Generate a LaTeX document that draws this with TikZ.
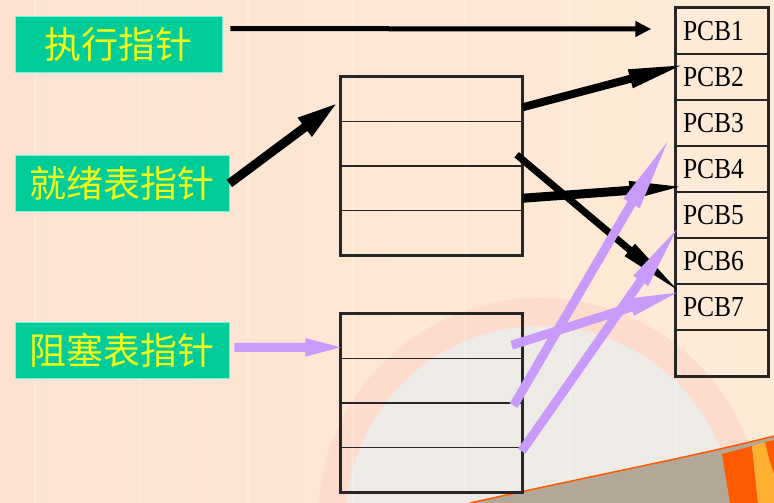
\documentclass[tikz,border=0pt]{standalone}
\usepackage{fontspec}
\setmainfont{Liberation Serif}
\newfontfamily\cjk{Noto Sans CJK SC}
\newfontfamily\pcbfont[FakeStretch=0.88]{Liberation Serif}
\usepackage{tikz}
\usetikzlibrary{arrows.meta, calc}

\definecolor{bgleft}{RGB}{252,226,211}
\definecolor{bgright}{RGB}{254,235,214}
\definecolor{ringpink}{RGB}{253,219,205}
\definecolor{discgrey}{RGB}{238,235,231}
\definecolor{floorgrey}{RGB}{179,168,152}
\definecolor{bandorange}{RGB}{255,90,0}
\definecolor{bandyellow}{RGB}{255,176,48}
\definecolor{boxteal}{RGB}{0,204,153}
\definecolor{boxedge}{RGB}{120,240,220}
\definecolor{ptryellow}{RGB}{240,250,20}
\definecolor{ptrpurple}{RGB}{200,155,250}

\tikzset{
  ptrbox/.style={draw=boxedge, line width=0.8pt, fill=boxteal, text=ptryellow,
    inner sep=0pt, minimum height=56pt, font=\cjk\fontsize{37}{39}\selectfont},
  tabrow/.style={draw=black!85, line width=1.3pt, minimum width=181pt,
    minimum height=44.5pt, inner sep=0pt},
  pcbrow/.style={draw=black!85, line width=1.3pt, minimum height=46pt,
    text width=78pt, inner xsep=7pt, inner ysep=0pt, align=left,
    font=\pcbfont\fontsize{29}{31}\selectfont},
  blackptr/.style={line width=8pt, black},
  purpleptr/.style={line width=9pt, ptrpurple},
}

\begin{document}
\begin{tikzpicture}[x=1pt, y=-1pt]
% background
\useasboundingbox (0,0) rectangle (774,503);
\shade[left color=bgleft, right color=bgright] (0,0) rectangle (774,503);
\begin{scope}
\clip (0,0) rectangle (774,503);
\fill[ringpink] (540,520) circle[radius=222];
\fill[discgrey] (540,520) circle[radius=194];
\foreach \x in {35,140,248,353,465,570,676}
  \draw[white, opacity=0.2, line width=2pt] (\x,0) -- (\x,503);
\fill[floorgrey] (470,503) .. controls (610,472) and (700,455) .. (774,436) -- (774,503) -- cycle;
\fill[bandorange] (722,454) -- (752,446) -- (758,503) -- (730,503) -- cycle;
\fill[bandyellow] (752,446) -- (774,440) -- (774,503) -- (758,503) -- cycle;
\fill[bandorange] (765,442) -- (774,440) -- (774,474) .. controls (770,462) .. (765,442);
\draw[bandorange, line width=1.5pt] (470,503) .. controls (610,472) and (700,455) .. (774,436);
\end{scope}

% pointer boxes
\node[ptrbox, minimum width=207pt] (exec) at (118.5,44) {执行指针};
\node[ptrbox, minimum width=214pt] (ready) at (122,183.5) {就绪表指针};
\node[ptrbox, minimum width=214pt] (blocked) at (122,350.5) {阻塞表指针};

% ready list
\foreach \i in {1,...,4}
  \node[tabrow] (rdy\i) at (431.5,{77+44.5*(\i-0.5)}) {};
\draw[line width=2pt, black!85] (rdy1.north west) rectangle (rdy4.south east);

% blocked list
\foreach \i in {1,...,4}
  \node[tabrow] (blk\i) at (431.5,{314+44.5*(\i-0.5)}) {};
\draw[line width=2pt, black!85] (blk1.north west) rectangle (blk4.south east);

% PCB table
\foreach \i in {1,...,7}
  \node[pcbrow] (pcb\i) at (722,{8+46*(\i-0.5)}) {PCB\i};
\node[pcbrow] (pcb8) at (722,{8+46*7.5}) {};
\draw[line width=2pt, black!85] (pcb1.north west) rectangle (pcb8.south east);

% black pointers
\draw[blackptr, line width=5pt, -{Triangle[length=16pt,width=15pt]}]
  ($(exec.north east)+(8,13)$) -- ($(pcb1.west)+(-24,-2)$);
\draw[blackptr, line width=9pt, -{Triangle[length=42pt,width=21pt]}]
  (ready.east) -- ($(rdy1.west)+(-2,3)$);
\draw[blackptr, -{Triangle[length=58pt,width=17pt]}]
  ($(rdy1.east)+(0,8)$) -- ($(pcb2.west)+(11,-13)$);
\draw[blackptr, line width=7pt, -{Triangle[length=70pt,width=14pt]}]
  ($(rdy2.east)+(-6,11)$) -- ($(pcb7.west)+(8,-12)$);
\draw[blackptr, line width=9pt, -{Triangle[length=60pt,width=16pt]}]
  ($(rdy3.east)+(0,10)$) -- ($(pcb4.west)+(14,17)$);

% purple pointers
\draw[purpleptr, -{Triangle[length=45pt,width=15pt]}]
  ($(blocked.east)+(5,-3)$) -- ($(blk1.west)+(10,11)$);
\draw[purpleptr, -{Triangle[length=85pt,width=16pt]}]
  ($(blk2.south east)+(-9,2)$) -- ($(pcb3.west)+(-1,7)$);
\draw[purpleptr, -{Triangle[length=78pt,width=15pt]}]
  ($(blk3.south east)+(-1,3)$) -- ($(pcb5.west)+(10,2)$);
\draw[purpleptr, -{Triangle[length=60pt,width=15pt]}]
  ($(blk1.east)+(-11,9)$) -- ($(pcb7.west)+(13,-18)$);
\end{tikzpicture}
\end{document}
